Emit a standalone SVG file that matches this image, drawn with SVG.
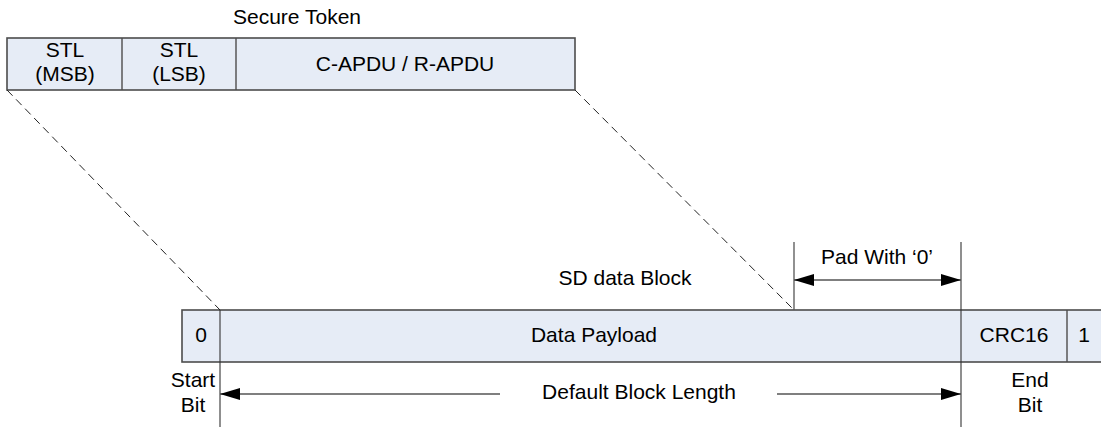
<svg xmlns="http://www.w3.org/2000/svg" width="1101" height="432" viewBox="0 0 1101 432">
  <style>
    text { font-family: "Liberation Sans", Arial, sans-serif; font-size: 21px; fill: #000; text-anchor: middle; }
    .cell { fill: #e6ecf6; stroke: #4d4d4d; stroke-width: 1.6; }
    .div { stroke: #4d4d4d; stroke-width: 1.4; fill: none; }
    .guide { stroke: #333; stroke-width: 1.1; fill: none; }
    .dash { stroke: #222; stroke-width: 1; stroke-dasharray: 8 5; fill: none; }
    .dim { stroke: #555; stroke-width: 1.3; fill: none; }
  </style>
  <defs>
    <marker id="head" viewBox="0 0 20 12" refX="20" refY="6" markerWidth="20" markerHeight="12" markerUnits="userSpaceOnUse" orient="auto-start-reverse">
      <path d="M0,0 L20,6 L0,12 Z" fill="#000"/>
    </marker>
  </defs>

  <rect width="1101" height="432" fill="#fff"/>

  <!-- Secure Token frame -->
  <g id="secure-token">
    <text x="297" y="24">Secure Token</text>
    <rect class="cell" x="7" y="38" width="568" height="52"/>
    <line class="div" x1="122" y1="38" x2="122" y2="90"/>
    <line class="div" x1="236" y1="38" x2="236" y2="90"/>
  </g>
  <g id="stl-msb">
    <text x="65" y="57">STL</text>
    <text x="65" y="81">(MSB)</text>
  </g>
  <g id="stl-lsb">
    <text x="179" y="57">STL</text>
    <text x="179" y="81">(LSB)</text>
  </g>
  <g id="apdu">
    <text x="405" y="71">C-APDU / R-APDU</text>
  </g>

  <!-- SD data block -->
  <g id="sd-block">
    <text x="625" y="285">SD data Block</text>
    <rect class="cell" x="182" y="310" width="940" height="52"/>
    <line class="div" x1="1067" y1="310" x2="1067" y2="362"/>
  </g>
  <g id="start-bit">
    <text x="201" y="342">0</text>
    <text x="193" y="387">Start</text>
    <text x="193" y="412">Bit</text>
  </g>
  <g id="payload">
    <text x="594" y="342">Data Payload</text>
  </g>
  <g id="crc16">
    <text x="1014" y="342">CRC16</text>
  </g>
  <g id="end-bit">
    <text x="1084" y="342">1</text>
    <text x="1030" y="387">End</text>
    <text x="1030" y="412">Bit</text>
  </g>

  <!-- connectors: projection lines, boundaries and dimension arrows -->
  <g id="connectors">
    <line class="dash" x1="7" y1="90" x2="220" y2="310"/>
    <line class="dash" x1="575" y1="90" x2="794" y2="310"/>

    <line class="guide" x1="220" y1="310" x2="220" y2="427"/>
    <line class="guide" x1="961" y1="242" x2="961" y2="427"/>
    <line class="dim" x1="794" y1="242" x2="794" y2="310"/>

    <text x="877" y="264">Pad With ‘0’</text>
    <line class="dim" x1="794" y1="280" x2="961" y2="280" marker-start="url(#head)" marker-end="url(#head)"/>

    <text x="639" y="399">Default Block Length</text>
    <line class="dim" x1="500" y1="394" x2="220" y2="394" marker-end="url(#head)"/>
    <line class="dim" x1="777" y1="394" x2="961" y2="394" marker-end="url(#head)"/>
  </g>
</svg>
